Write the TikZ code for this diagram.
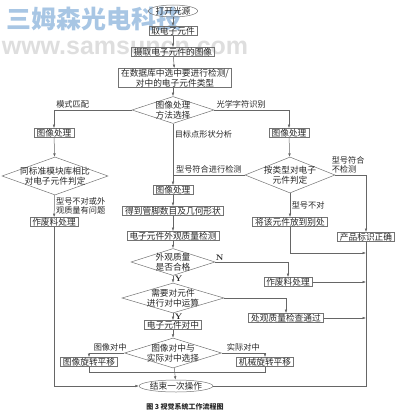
\documentclass[tikz,border=0pt]{standalone}
\usepackage{fontspec}
\newfontfamily\cjk{Noto Sans CJK SC}
\newfontfamily\latin{Liberation Sans}
\usetikzlibrary{shapes.geometric,arrows.meta}
\definecolor{wmblue}{RGB}{168,198,228}
\begin{document}
\begin{tikzpicture}[x=1pt, y=-1pt, font=\cjk\fontsize{8.7}{10}\selectfont, text=black!85,
  box/.style={draw=black!55, line width=.5pt, inner xsep=2.5pt, inner ysep=.6pt, align=center},
  term/.style={ellipse, draw=black!55, line width=.5pt, inner sep=0pt, minimum width=#1, minimum height=12pt},
  decide/.style 2 args={diamond, draw=black!55, line width=.5pt, inner sep=0pt, minimum width=#1, minimum height=#2},
  txt/.style={align=center, inner sep=0pt},
  lbl/.style={align=left, inner sep=1.5pt, font=\cjk\fontsize{8.2}{9}\selectfont},
  yn/.style={inner sep=1.5pt, font=\rmfamily\bfseries\fontsize{8}{9}\selectfont},
  line/.style={draw=black!60, line width=.5pt},
  arr/.style={line, -{Latex[length=3.5pt, width=2.6pt]}}]
  \useasboundingbox (0,0) rectangle (400,414);
  \node[font=\cjk\bfseries\fontsize{25}{25}\selectfont, text=wmblue] (wm1) at (94,19) {三姆森光电科技};
  \node[font=\latin\bfseries\fontsize{25}{25}\selectfont, text=black!13] (wm2) at (125,48) {www.samsuncn.com};

  \node[term=47pt] (s) at (173,11) {打开光源};
  \node[box] (n1) at (173,31) {取电子元件};
  \node[box] (n2) at (173,52) {摄取电子元件的图像};
  \node[box] (n3) at (175,78) {在数据库中选中要进行检测/\\对中的电子元件类型};
  \node[decide={82pt}{27pt}, label={[txt]center:{图像处理\\方法选择}}] (d1) at (173,110) {};
  \node[box] (p1) at (54,133) {图像处理};
  \node[decide={106pt}{38pt}, label={[txt]center:{同标准模块库相比\\对电子元件判定}}] (d2) at (55,176) {};
  \node[box] (w1) at (54,222) {作废料处理};
  \node[box] (p2) at (173,190) {图像处理};
  \node[box] (n4) at (173,211) {得到管脚数目及几何形状};
  \node[box] (n5) at (173,236) {电子元件外观质量检测};
  \node[decide={84pt}{27pt}, label={[txt]center:{外观质量\\是否合格}}] (d4) at (173,262) {};
  \node[decide={102pt}{30pt}, label={[txt]center:{需要对元件\\进行对中运算}}] (d5) at (173,298) {};
  \node[box] (n6) at (173,325) {电子元件对中};
  \node[decide={97pt}{30pt}, label={[txt]center:{图像对中与\\实际对中选择}}] (d6) at (173,353) {};
  \node[box] (r1) at (89,362) {图像旋转平移};
  \node[box] (r2) at (265,362) {机械旋转平移};
  \node[term=67pt] (e) at (176,386) {结束一次操作};
  \node[box] (p3) at (289,133) {图像处理};
  \node[decide={90pt}{36pt}, label={[txt]center:{按类型对电子\\元件判定}}] (d3) at (290,175) {};
  \node[box] (n8) at (290,222) {将该元件放到别处};
  \node[box] (n7) at (366,237) {产品标识正确};
  \node[box] (w2) at (288,282) {作废料处理};
  \node[box] (q) at (286,318) {处观质量检查通过};
  \coordinate (c1) at (366,253);
  \coordinate (j) at (173,372);
  \node[font=\cjk\bfseries\fontsize{7}{8}\selectfont] (cap) at (185,407) {图 3 视觉系统工作流程图};

  \draw[arr] (s) -- (n1);
  \draw[arr] (n1) -- (n2);
  \draw[arr] (n2) -- (n3);
  \draw[arr] (n3.south -| d1) -- (d1);
  \draw[arr] (d1.west) -| (p1) node[lbl, pos=.38, above] {模式匹配};
  \draw[arr] (p1) -- (d2);
  \draw[arr] (d2) -- (w1) node[lbl, midway, right] {型号不对或外\\观质量有问题};
  \draw[arr] (w1) |- (e);
  \draw[arr] (d1.east) -| (p3) node[lbl, pos=.18, above] {光学字符识别};
  \draw[arr] (p3) -- (d3);
  \draw[line] (d3.west) -- (d3.west -| p2) node[lbl, midway, above] {型号符合进行检测};
  \draw[arr] (d1) -- (p2) node[lbl, pos=.17, right] {目标点形状分析};
  \draw[arr] (d3.east) -| (n7) node[lbl, pos=.21, above] {型号符合\\不检测};
  \draw[arr] (d3) -- (n8) node[lbl, midway, right] {型号不对};
  \draw[arr] (n8) |- (c1);
  \draw[line] (n7) |- (e);
  \draw[arr] (p2) -- (n4);
  \draw[arr] (n4) -- (n5);
  \draw[arr] (n5) -- (d4);
  \draw[arr] (d4) -- (d5) node[yn, midway, right] {Y};
  \draw[arr] (d4.east) -| (w2) node[yn, pos=.03, above] {N};
  \draw[arr] (w2) -- (w2 -| n7);
  \draw[arr] (d5.east) -| (q);
  \draw[arr] (q) -- (q -| n7);
  \draw[arr] (d5) -- (n6) node[yn, midway, right] {Y};
  \draw[arr] (n6) -- (d6);
  \draw[arr] (d6.west) -| (r1) node[lbl, pos=.2, above] {图像对中};
  \draw[arr] (d6.east) -| (r2) node[lbl, pos=.25, above] {实际对中};
  \draw[line] (r1) |- (j);
  \draw[line] (r2) |- (j);
  \draw[arr] (d6) -- (e);
\end{tikzpicture}
\end{document}
